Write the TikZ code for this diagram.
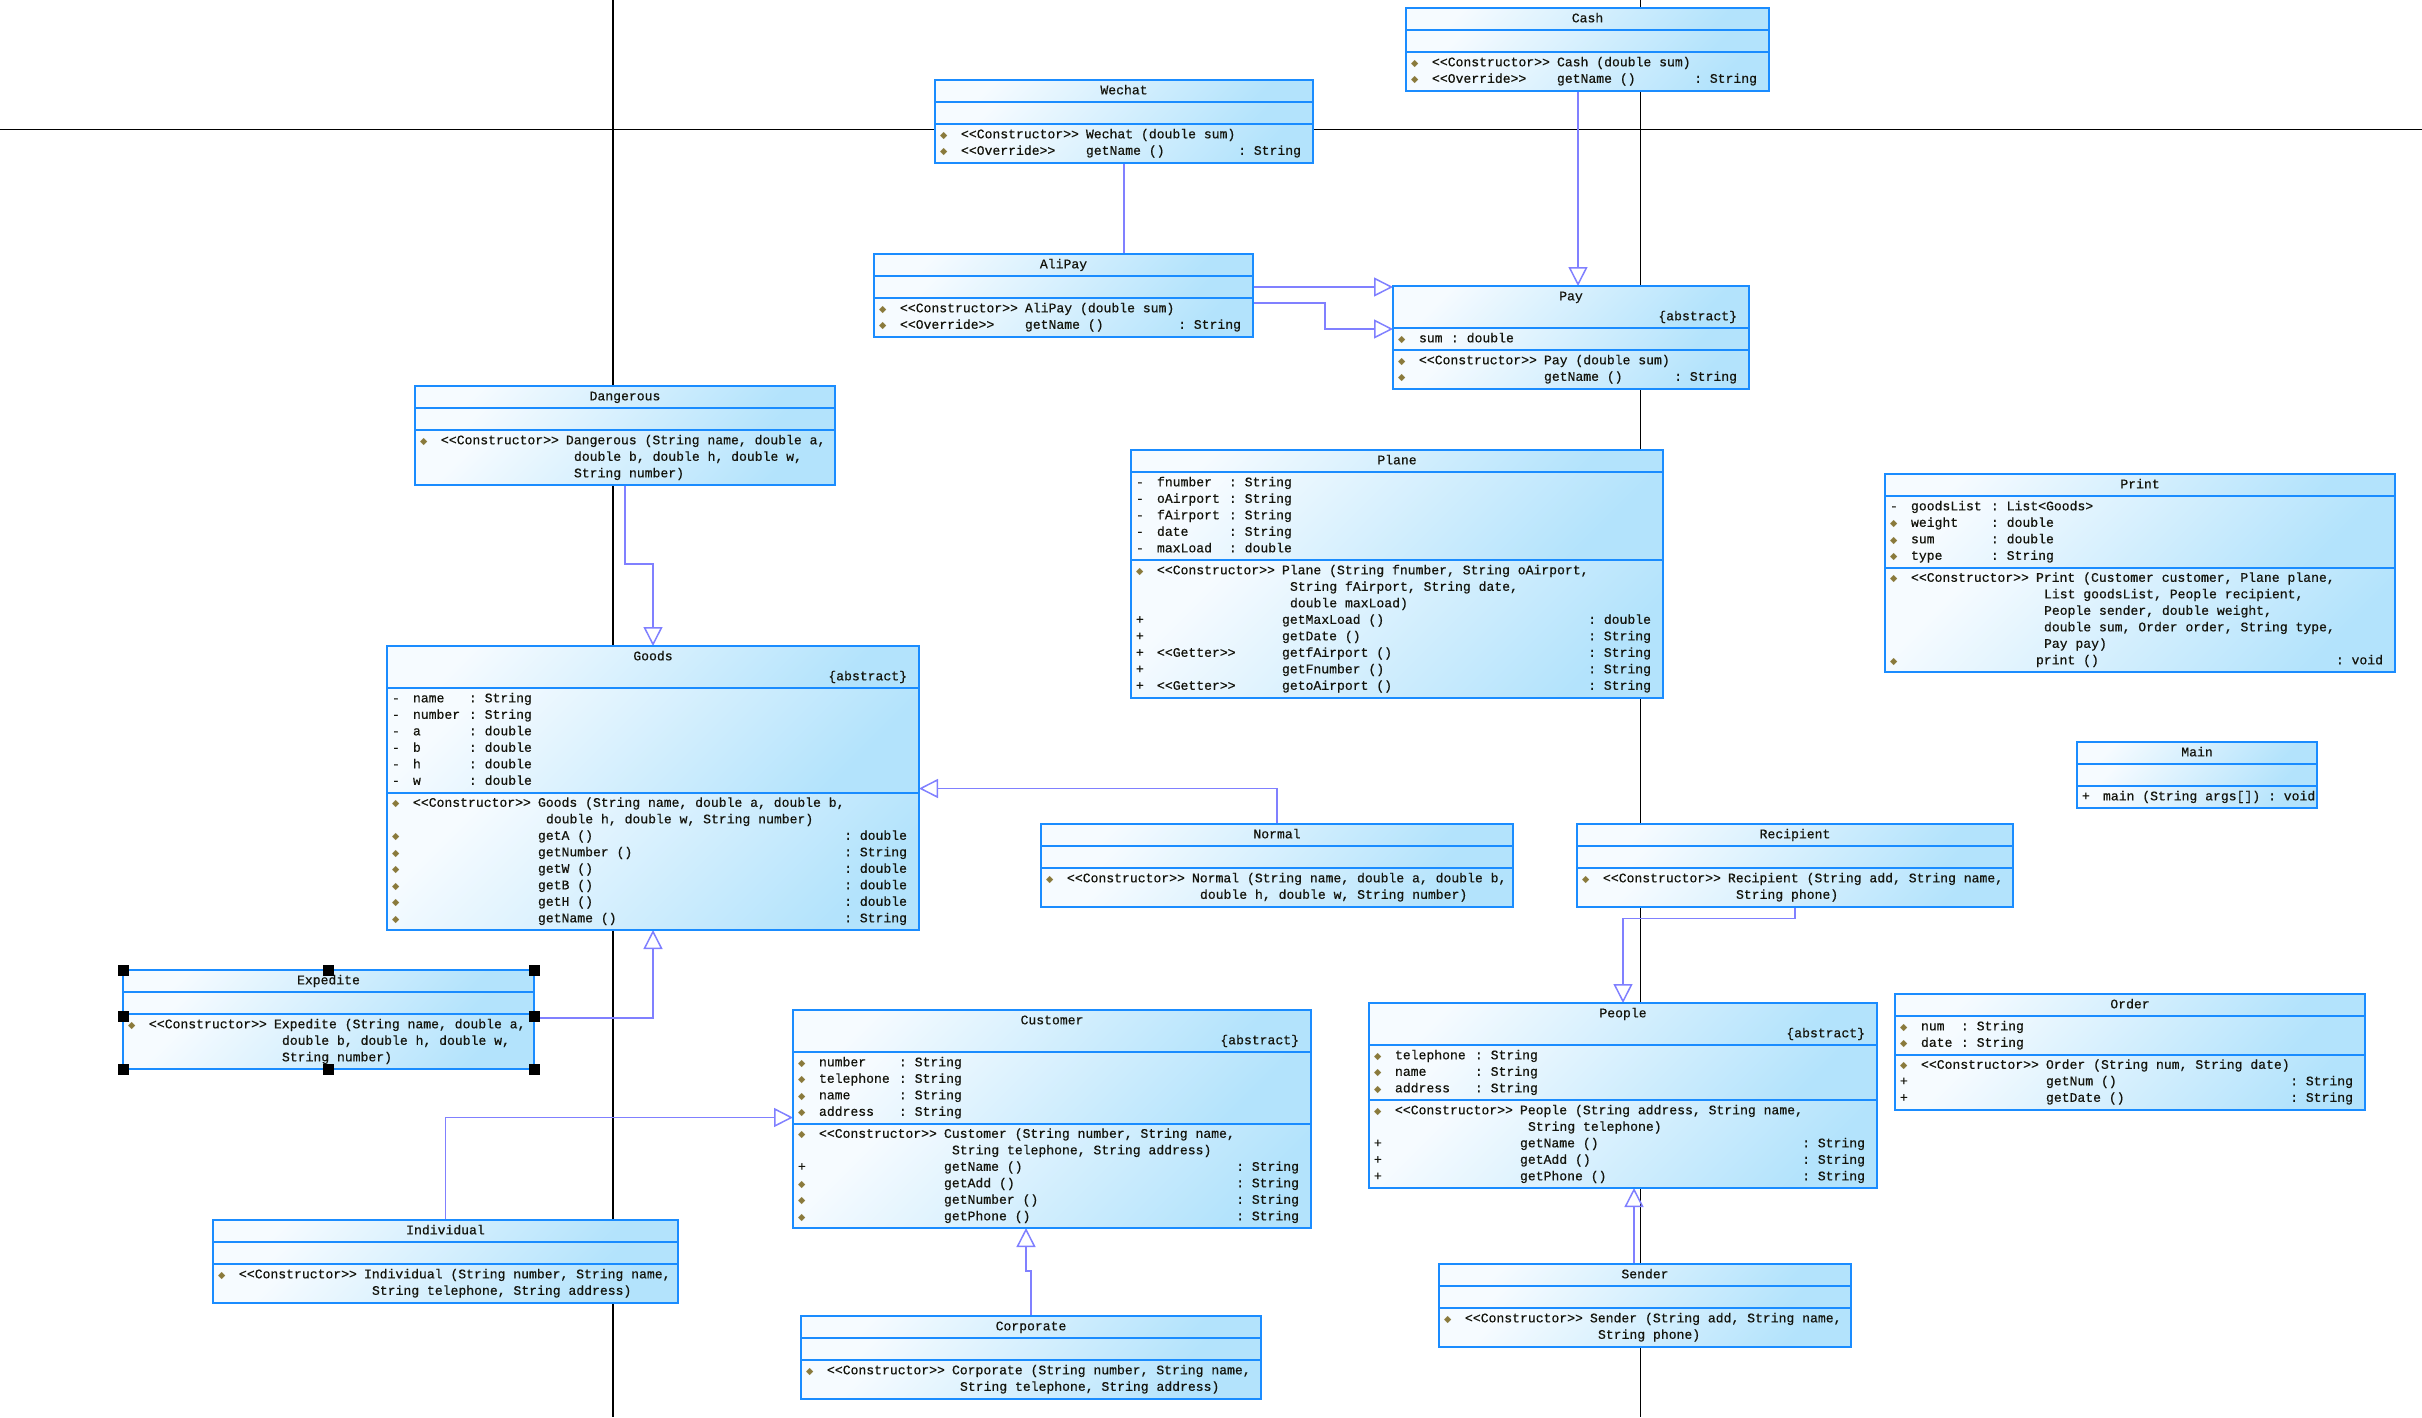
\documentclass[tikz,border=0pt]{standalone}
\usepackage{fontspec}
\newfontfamily\umlfont{Liberation Mono}[FakeBold=0.6]
\newfontfamily\visfont{DejaVu Sans}
\usetikzlibrary{arrows.meta,positioning,backgrounds}
\definecolor{UmlBorder}{HTML}{1A8CFF}
\definecolor{UmlLight}{HTML}{F6FBFF}
\definecolor{UmlBlue}{HTML}{B3E3FC}
\definecolor{UmlLink}{HTML}{8080FF}
\definecolor{UmlText}{HTML}{14140C}
\definecolor{VisDot}{HTML}{8A7A3C}
\DeclareRobustCommand{\umltype}{\umlfont\fontsize{13.1}{16.5}\selectfont}
\tikzset{
  umlbox/.style={
    draw=UmlBorder, line width=2pt, top color=UmlLight, bottom color=UmlBlue,
    shading angle=45, inner xsep=4pt, inner ysep=2.75pt, outer sep=0pt,
    text=UmlText, font=\umltype
  },
  umlhead/.style={umlbox, align=center, anchor=north west},
  umlpart/.style={umlbox, align=left},
  gen/.style={draw=UmlLink, line width=1.5pt, -{Triangle[open, length=19pt, width=19pt]}},
  gridline/.style={draw=black, line width=1.5pt}
}
% one line of a compartment: visibility, then text
\newcommand{\uline}[2]{\makebox[\clstw][l]{\spaceskip=7.86pt\relax\xspaceskip=7.86pt\relax
  \strut\makebox[22pt][l]{\hspace*{1pt}#1}#2}}
\newcommand{\uattr}[3]{\uline{#1}{\makebox[\attrw][l]{#2}: #3}}
\newcommand{\uop}[4]{\uline{#1}{\makebox[125pt][l]{#2}#3\hskip 0pt plus 1fill\relax #4\hspace*{8pt}}}
\newcommand{\ucont}[1]{\uline{}{\hspace*{133pt}#1}}
\newcommand{\vpk}{{\color{VisDot}\visfont\fontsize{9.5}{9.5}\selectfont ◆}}
\newcommand{\abst}[1]{\strut #1\\[3.5pt]\makebox[\clstw][r]{\strut\{abstract\}\hspace*{8pt}}}
\def\attrw{56pt}
% name, x, y, width, header, attributes, operations
\newcommand{\umlclass}[7]{%
  \pgfmathsetlengthmacro\clstw{(#4-8)*1pt}%
  \node[umlhead, text width=\clstw] (#1) at (#2,#3) {#5};
  \node[umlpart, text width=\clstw, below=0pt of #1] (#1-a) {#6};
  \node[umlpart, text width=\clstw, below=0pt of #1-a] (#1-o) {#7};
}
\begin{document}
\begin{tikzpicture}[x=1pt, y=-1pt]
  \useasboundingbox (0,0) rectangle (2422,1417);

  \umlclass{cash}{1406}{8}{363}{\strut Cash}{\strut}{%
    \uop{\vpk}{<<Constructor>>}{Cash (double sum)}{}\\
    \uop{\vpk}{<<Override>>}{getName ()}{: String}}
  \umlclass{wechat}{935}{80}{378}{\strut Wechat}{\strut}{%
    \uop{\vpk}{<<Constructor>>}{Wechat (double sum)}{}\\
    \uop{\vpk}{<<Override>>}{getName ()}{: String}}
  \umlclass{alipay}{874}{254}{379}{\strut AliPay}{\strut}{%
    \uop{\vpk}{<<Constructor>>}{AliPay (double sum)}{}\\
    \uop{\vpk}{<<Override>>}{getName ()}{: String}}
  \def\attrw{32pt}
  \umlclass{pay}{1393}{286}{356}{\abst{Pay}}{\uattr{\vpk}{sum}{double}}{%
    \uop{\vpk}{<<Constructor>>}{Pay (double sum)}{}\\
    \uop{\vpk}{}{getName ()}{: String}}
  \umlclass{dangerous}{415}{386}{420}{\strut Dangerous}{\strut}{%
    \uop{\vpk}{<<Constructor>>}{Dangerous (String name, double a,}{}\\
    \ucont{double b, double h, double w,}\\
    \ucont{String number)}}
  \def\attrw{72pt}
  \umlclass{plane}{1131}{450}{532}{\strut Plane}{%
    \uattr{-}{fnumber}{String}\\
    \uattr{-}{oAirport}{String}\\
    \uattr{-}{fAirport}{String}\\
    \uattr{-}{date}{String}\\
    \uattr{-}{maxLoad}{double}}{%
    \uop{\vpk}{<<Constructor>>}{Plane (String fnumber, String oAirport,}{}\\
    \ucont{String fAirport, String date,}\\
    \ucont{double maxLoad)}\\
    \uop{+}{}{getMaxLoad ()}{: double}\\
    \uop{+}{}{getDate ()}{: String}\\
    \uop{+}{<<Getter>>}{getfAirport ()}{: String}\\
    \uop{+}{}{getFnumber ()}{: String}\\
    \uop{+}{<<Getter>>}{getoAirport ()}{: String}}
  \def\attrw{80pt}
  \umlclass{print}{1885}{474}{510}{\strut Print}{%
    \uattr{-}{goodsList}{List<Goods>}\\
    \uattr{\vpk}{weight}{double}\\
    \uattr{\vpk}{sum}{double}\\
    \uattr{\vpk}{type}{String}}{%
    \uop{\vpk}{<<Constructor>>}{Print (Customer customer, Plane plane,}{}\\
    \ucont{List goodsList, People recipient,}\\
    \ucont{People sender, double weight,}\\
    \ucont{double sum, Order order, String type,}\\
    \ucont{Pay pay)}\\
    \uop{\vpk}{}{print ()}{: void}}
  \umlclass{main}{2077}{742}{240}{\strut Main}{\strut}{%
    \uline{+}{main (String args[]) : void}}
  \def\attrw{56pt}
  \umlclass{goods}{387}{646}{532}{\abst{Goods}}{%
    \uattr{-}{name}{String}\\
    \uattr{-}{number}{String}\\
    \uattr{-}{a}{double}\\
    \uattr{-}{b}{double}\\
    \uattr{-}{h}{double}\\
    \uattr{-}{w}{double}}{%
    \uop{\vpk}{<<Constructor>>}{Goods (String name, double a, double b,}{}\\
    \ucont{double h, double w, String number)}\\
    \uop{\vpk}{}{getA ()}{: double}\\
    \uop{\vpk}{}{getNumber ()}{: String}\\
    \uop{\vpk}{}{getW ()}{: double}\\
    \uop{\vpk}{}{getB ()}{: double}\\
    \uop{\vpk}{}{getH ()}{: double}\\
    \uop{\vpk}{}{getName ()}{: String}}
  \umlclass{normal}{1041}{824}{472}{\strut Normal}{\strut}{%
    \uop{\vpk}{<<Constructor>>}{Normal (String name, double a, double b,}{}\\
    \ucont{double h, double w, String number)}}
  \umlclass{recipient}{1577}{824}{436}{\strut Recipient}{\strut}{%
    \uop{\vpk}{<<Constructor>>}{Recipient (String add, String name,}{}\\
    \ucont{String phone)}}
  \umlclass{expedite}{123}{970}{411}{\strut Expedite}{\strut}{%
    \uop{\vpk}{<<Constructor>>}{Expedite (String name, double a,}{}\\
    \ucont{double b, double h, double w,}\\
    \ucont{String number)}}
  \def\attrw{80pt}
  \umlclass{customer}{793}{1010}{518}{\abst{Customer}}{%
    \uattr{\vpk}{number}{String}\\
    \uattr{\vpk}{telephone}{String}\\
    \uattr{\vpk}{name}{String}\\
    \uattr{\vpk}{address}{String}}{%
    \uop{\vpk}{<<Constructor>>}{Customer (String number, String name,}{}\\
    \ucont{String telephone, String address)}\\
    \uop{+}{}{getName ()}{: String}\\
    \uop{\vpk}{}{getAdd ()}{: String}\\
    \uop{\vpk}{}{getNumber ()}{: String}\\
    \uop{\vpk}{}{getPhone ()}{: String}}
  \umlclass{people}{1369}{1003}{508}{\abst{People}}{%
    \uattr{\vpk}{telephone}{String}\\
    \uattr{\vpk}{name}{String}\\
    \uattr{\vpk}{address}{String}}{%
    \uop{\vpk}{<<Constructor>>}{People (String address, String name,}{}\\
    \ucont{String telephone)}\\
    \uop{+}{}{getName ()}{: String}\\
    \uop{+}{}{getAdd ()}{: String}\\
    \uop{+}{}{getPhone ()}{: String}}
  \def\attrw{40pt}
  \umlclass{order}{1895}{994}{470}{\strut Order}{%
    \uattr{\vpk}{num}{String}\\
    \uattr{\vpk}{date}{String}}{%
    \uop{\vpk}{<<Constructor>>}{Order (String num, String date)}{}\\
    \uop{+}{}{getNum ()}{: String}\\
    \uop{+}{}{getDate ()}{: String}}
  \umlclass{individual}{213}{1220}{465}{\strut Individual}{\strut}{%
    \uop{\vpk}{<<Constructor>>}{Individual (String number, String name,}{}\\
    \ucont{String telephone, String address)}}
  \umlclass{corporate}{801}{1316}{460}{\strut Corporate}{\strut}{%
    \uop{\vpk}{<<Constructor>>}{Corporate (String number, String name,}{}\\
    \ucont{String telephone, String address)}}
  \umlclass{sender}{1439}{1264}{412}{\strut Sender}{\strut}{%
    \uop{\vpk}{<<Constructor>>}{Sender (String add, String name,}{}\\
    \ucont{String phone)}}

  % selection handles
  \foreach \p in {expedite.north west, expedite.north, expedite.north east,
      expedite-o.south west, expedite-o.south, expedite-o.south east}
    \fill (\p) ++(-5.5,-5.5) rectangle ++(11,11);
  \foreach \p in {expedite-o.north west, expedite-o.north east}
    \fill ([yshift=-2.5pt]\p) ++(-5.5,-5.5) rectangle ++(11,11);

  \coordinate (cashx) at (1578,0);
  \coordinate (payjog) at (1325,303);
  \coordinate (corpx) at (1026,0);
  \coordinate (sendx) at (1634,0);

  \begin{pgfonlayer}{background}
    \fill[white] (0,0) rectangle (2422,1417);
    \draw[gridline] (0,129.3) -- (2422,129.3);
    \draw[gridline] (613,0) -- (613,1417);
    \draw[gridline] (1640.5,0) -- (1640.5,1417);

    \draw[gen] (cash-o.south -| cashx) -- (pay.north -| cashx);
    \draw[gen] (alipay-a.east) -- (alipay-a.east -| pay.west);
    \draw[gen] (wechat-o.south) |- (payjog) |- ([yshift=-1pt]pay-a.north west);
    \draw[gen] (dangerous-o.south) -- ++(0,79) -| (goods.north);
    \draw[gen] ([yshift=-4pt]expedite-o.north east) -| (goods-o.south);
    \draw[gen] (normal.north) |- ([yshift=4pt]goods-o.north east);
    \draw[gen] (individual.north) |- ([yshift=6pt]customer-o.north west);
    \draw[gen] (corporate.north) -- ++(0,-45) -| (customer-o.south -| corpx);
    \draw[gen] (recipient-o.south) -- ++(0,12) -| (people.north);
    \draw[gen] (sender.north -| sendx) -- (people-o.south -| sendx);
  \end{pgfonlayer}
\end{tikzpicture}
\end{document}
